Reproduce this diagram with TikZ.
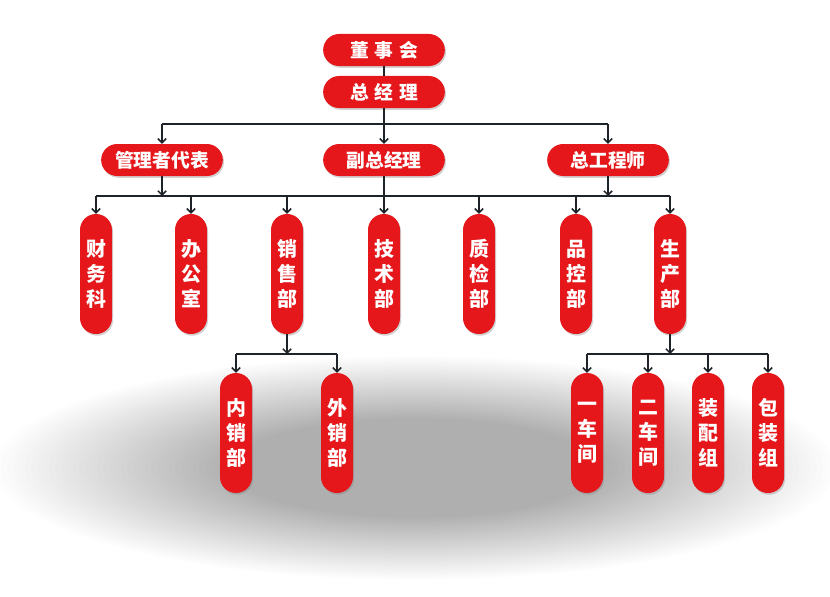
\documentclass[tikz,border=0pt]{standalone}
\usepackage{fontspec}
\newfontfamily\cjk{Noto Sans CJK SC}
\usepackage{xcolor}
\usetikzlibrary{shapes,arrows.meta,positioning,calc,backgrounds,shadows}
\definecolor{boxred}{HTML}{E5171B}
\definecolor{linec}{HTML}{1E2329}

\begin{document}
\begin{tikzpicture}[x=0.3mm, y=-0.3mm, >={Straight Barb[length=3.5pt,width=7pt]}]
  \tikzstyle{box}=[rectangle, fill=boxred, text=white, rounded corners=0.48cm, inner sep=0pt, drop shadow={shadow xshift=1pt, shadow yshift=-1.5pt, opacity=0.35}]
  \tikzstyle{hbox}=[box, minimum width=3.65cm, minimum height=0.96cm, font=\cjk\bfseries\fontsize{16}{16}\selectfont]
  \tikzstyle{vbox}=[box, minimum width=0.96cm, minimum height=3.6cm, align=center, font=\cjk\bfseries\fontsize{17}{21.3}\selectfont]
  \tikzstyle{line}=[draw=linec, line width=1.3pt]

  % background and floor shadow
  \fill[white] (0,0) rectangle (830,597);
  \begin{scope}
    \clip (0,0) rectangle (830,597);
    \foreach \i in {0,...,39}
      \fill[black, opacity=0.009] (415,468) ellipse [x radius={420-6*\i}, y radius={112-1.6*\i}];
  \end{scope}

  % top
  \node[hbox] (dsh) at (384,50) {董\hspace{5pt}事\hspace{5pt}会};
  \node[hbox] (zjl) at (384,92) {总\hspace{5pt}经\hspace{5pt}理};
  \node[hbox] (gld) at (162,160) {管理者代表};
  \node[hbox] (fzjl) at (384,160) {副总经理};
  \node[hbox] (zgcs) at (608,160) {总工程师};

  % departments
  \node[vbox] (cwk) at (96,274) {财\\务\\科};
  \node[vbox] (bgs) at (191,274) {办\\公\\室};
  \node[vbox] (xsb) at (287,274) {销\\售\\部};
  \node[vbox] (jsb) at (384,274) {技\\术\\部};
  \node[vbox] (zjb) at (479,274) {质\\检\\部};
  \node[vbox] (pkb) at (576,274) {品\\控\\部};
  \node[vbox] (scb) at (670,274) {生\\产\\部};

  % sub units
  \node[vbox] (nxb) at (236,433) {内\\销\\部};
  \node[vbox] (wxb) at (337,433) {外\\销\\部};
  \node[vbox] (yc) at (587,433) {一\\车\\间};
  \node[vbox] (ec) at (648,433) {二\\车\\间};
  \node[vbox] (zpz) at (708,433) {装\\配\\组};
  \node[vbox] (bzz) at (768,433) {包\\装\\组};

  \coordinate (bus1) at (384,124);
  \coordinate (bus2) at (384,196);
  \coordinate (bus3) at (287,354);
  \coordinate (bus4) at (670,354);

  % 董事会 - 总经理
  \draw[line] (dsh) -- (zjl);
  % 总经理 to second row
  \draw[line, ->] (zjl) -- (fzjl);
  \draw[line] (gld.north |- bus1) -- (zgcs.north |- bus1);
  \draw[line, ->] (gld.north |- bus1) -- (gld);
  \draw[line, ->] (zgcs.north |- bus1) -- (zgcs);
  % second row to departments
  \draw[line, ->] (gld) -- (gld.south |- bus2);
  \draw[line, ->] (zgcs) -- (zgcs.south |- bus2);
  \draw[line, ->] (fzjl) -- (jsb);
  \draw[line] (cwk.north |- bus2) -- (scb.north |- bus2);
  \foreach \d in {cwk,bgs,xsb,zjb,pkb,scb}
    \draw[line, ->] (\d.north |- bus2) -- (\d);
  % 销售部
  \draw[line, ->] (xsb) -- (bus3);
  \draw[line] (nxb.north |- bus3) -- (wxb.north |- bus3);
  \foreach \d in {nxb,wxb}
    \draw[line, ->] (\d.north |- bus3) -- (\d);
  % 生产部
  \draw[line, ->] (scb) -- (bus4);
  \draw[line] (yc.north |- bus4) -- (bzz.north |- bus4);
  \foreach \d in {yc,ec,zpz,bzz}
    \draw[line, ->] (\d.north |- bus4) -- (\d);
\end{tikzpicture}
\end{document}
